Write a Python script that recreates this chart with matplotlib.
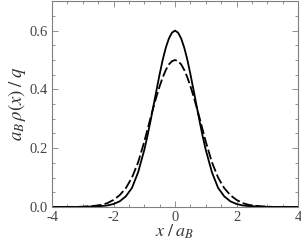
import matplotlib
matplotlib.use('Agg')
import matplotlib.pyplot as plt
from matplotlib.ticker import MultipleLocator

plt.rcParams['font.family'] = ['Liberation Serif', 'DejaVu Serif']
plt.rcParams['mathtext.fontset'] = 'stix'
plt.rcParams['axes.unicode_minus'] = False

# x in units of a_B (finer steps near the peak)
x = [-4.0, -3.8, -3.6, -3.4, -3.2, -3.0, -2.8, -2.6, -2.4, -2.2,
     -2.0, -1.8, -1.6, -1.4, -1.2, -1.0, -0.9, -0.8, -0.7, -0.6,
     -0.5, -0.4, -0.3, -0.2, -0.1, 0.0, 0.1, 0.2, 0.3, 0.4,
     0.5, 0.6, 0.7, 0.8, 0.9, 1.0, 1.2, 1.4, 1.6, 1.8,
     2.0, 2.2, 2.4, 2.6, 2.8, 3.0, 3.2, 3.4, 3.6, 3.8, 4.0]

# solid curve
rho_solid = [0.000, 0.000, 0.000, 0.000, 0.000, 0.000, 0.001, 0.002, 0.003, 0.005,
             0.010, 0.019, 0.036, 0.065, 0.118, 0.194, 0.240, 0.291, 0.345, 0.399,
             0.452, 0.501, 0.542, 0.573, 0.593, 0.600, 0.593, 0.573, 0.542, 0.501,
             0.452, 0.399, 0.345, 0.291, 0.240, 0.194, 0.118, 0.065, 0.036, 0.019,
             0.010, 0.005, 0.003, 0.002, 0.001, 0.000, 0.000, 0.000, 0.000, 0.000, 0.000]

# dashed curve
rho_dashed = [0.000, 0.000, 0.000, 0.000, 0.000, 0.001, 0.002, 0.004, 0.007, 0.013,
              0.024, 0.040, 0.064, 0.100, 0.152, 0.222, 0.262, 0.302, 0.340, 0.377,
              0.411, 0.441, 0.466, 0.485, 0.496, 0.500, 0.496, 0.485, 0.466, 0.441,
              0.411, 0.377, 0.340, 0.302, 0.262, 0.222, 0.152, 0.100, 0.064, 0.040,
              0.024, 0.013, 0.007, 0.004, 0.002, 0.001, 0.000, 0.000, 0.000, 0.000, 0.000]

fig = plt.figure(figsize=(3.01, 2.49), dpi=100)
ax = fig.add_axes([0.173, 0.169, 0.817, 0.826])

ax.plot(x, rho_solid, color='black', lw=1.3)
ax.plot(x, rho_dashed, color='black', lw=1.3, dashes=(5.5, 1.8))

ax.set_xlim(-4, 4)
ax.set_ylim(0, 0.7)
ax.xaxis.set_major_locator(MultipleLocator(2))
ax.xaxis.set_minor_locator(MultipleLocator(0.5))
ax.yaxis.set_major_locator(MultipleLocator(0.2))
ax.yaxis.set_minor_locator(MultipleLocator(0.05))
ax.yaxis.set_major_formatter(plt.FormatStrFormatter('%.1f'))

gray = '#808080'
for s in ax.spines.values():
    s.set_color(gray)
    s.set_linewidth(0.8)
ax.tick_params(which='both', direction='in', top=True, right=True, color=gray,
               labelcolor='#444444', labelsize=10.5, width=0.6)
ax.tick_params(axis='x', which='major', length=4, pad=3)
ax.tick_params(axis='y', which='major', length=4, pad=3)
ax.tick_params(which='minor', length=2)

ax.set_xlabel(r'$x\;/\;a_B$', fontsize=13, color='#333333', labelpad=-1)
ax.set_ylabel(r'$a_B\,\rho(x)\;/\;q$', fontsize=13.5, color='#333333', labelpad=1)

fig.savefig('out.png', dpi=100)
